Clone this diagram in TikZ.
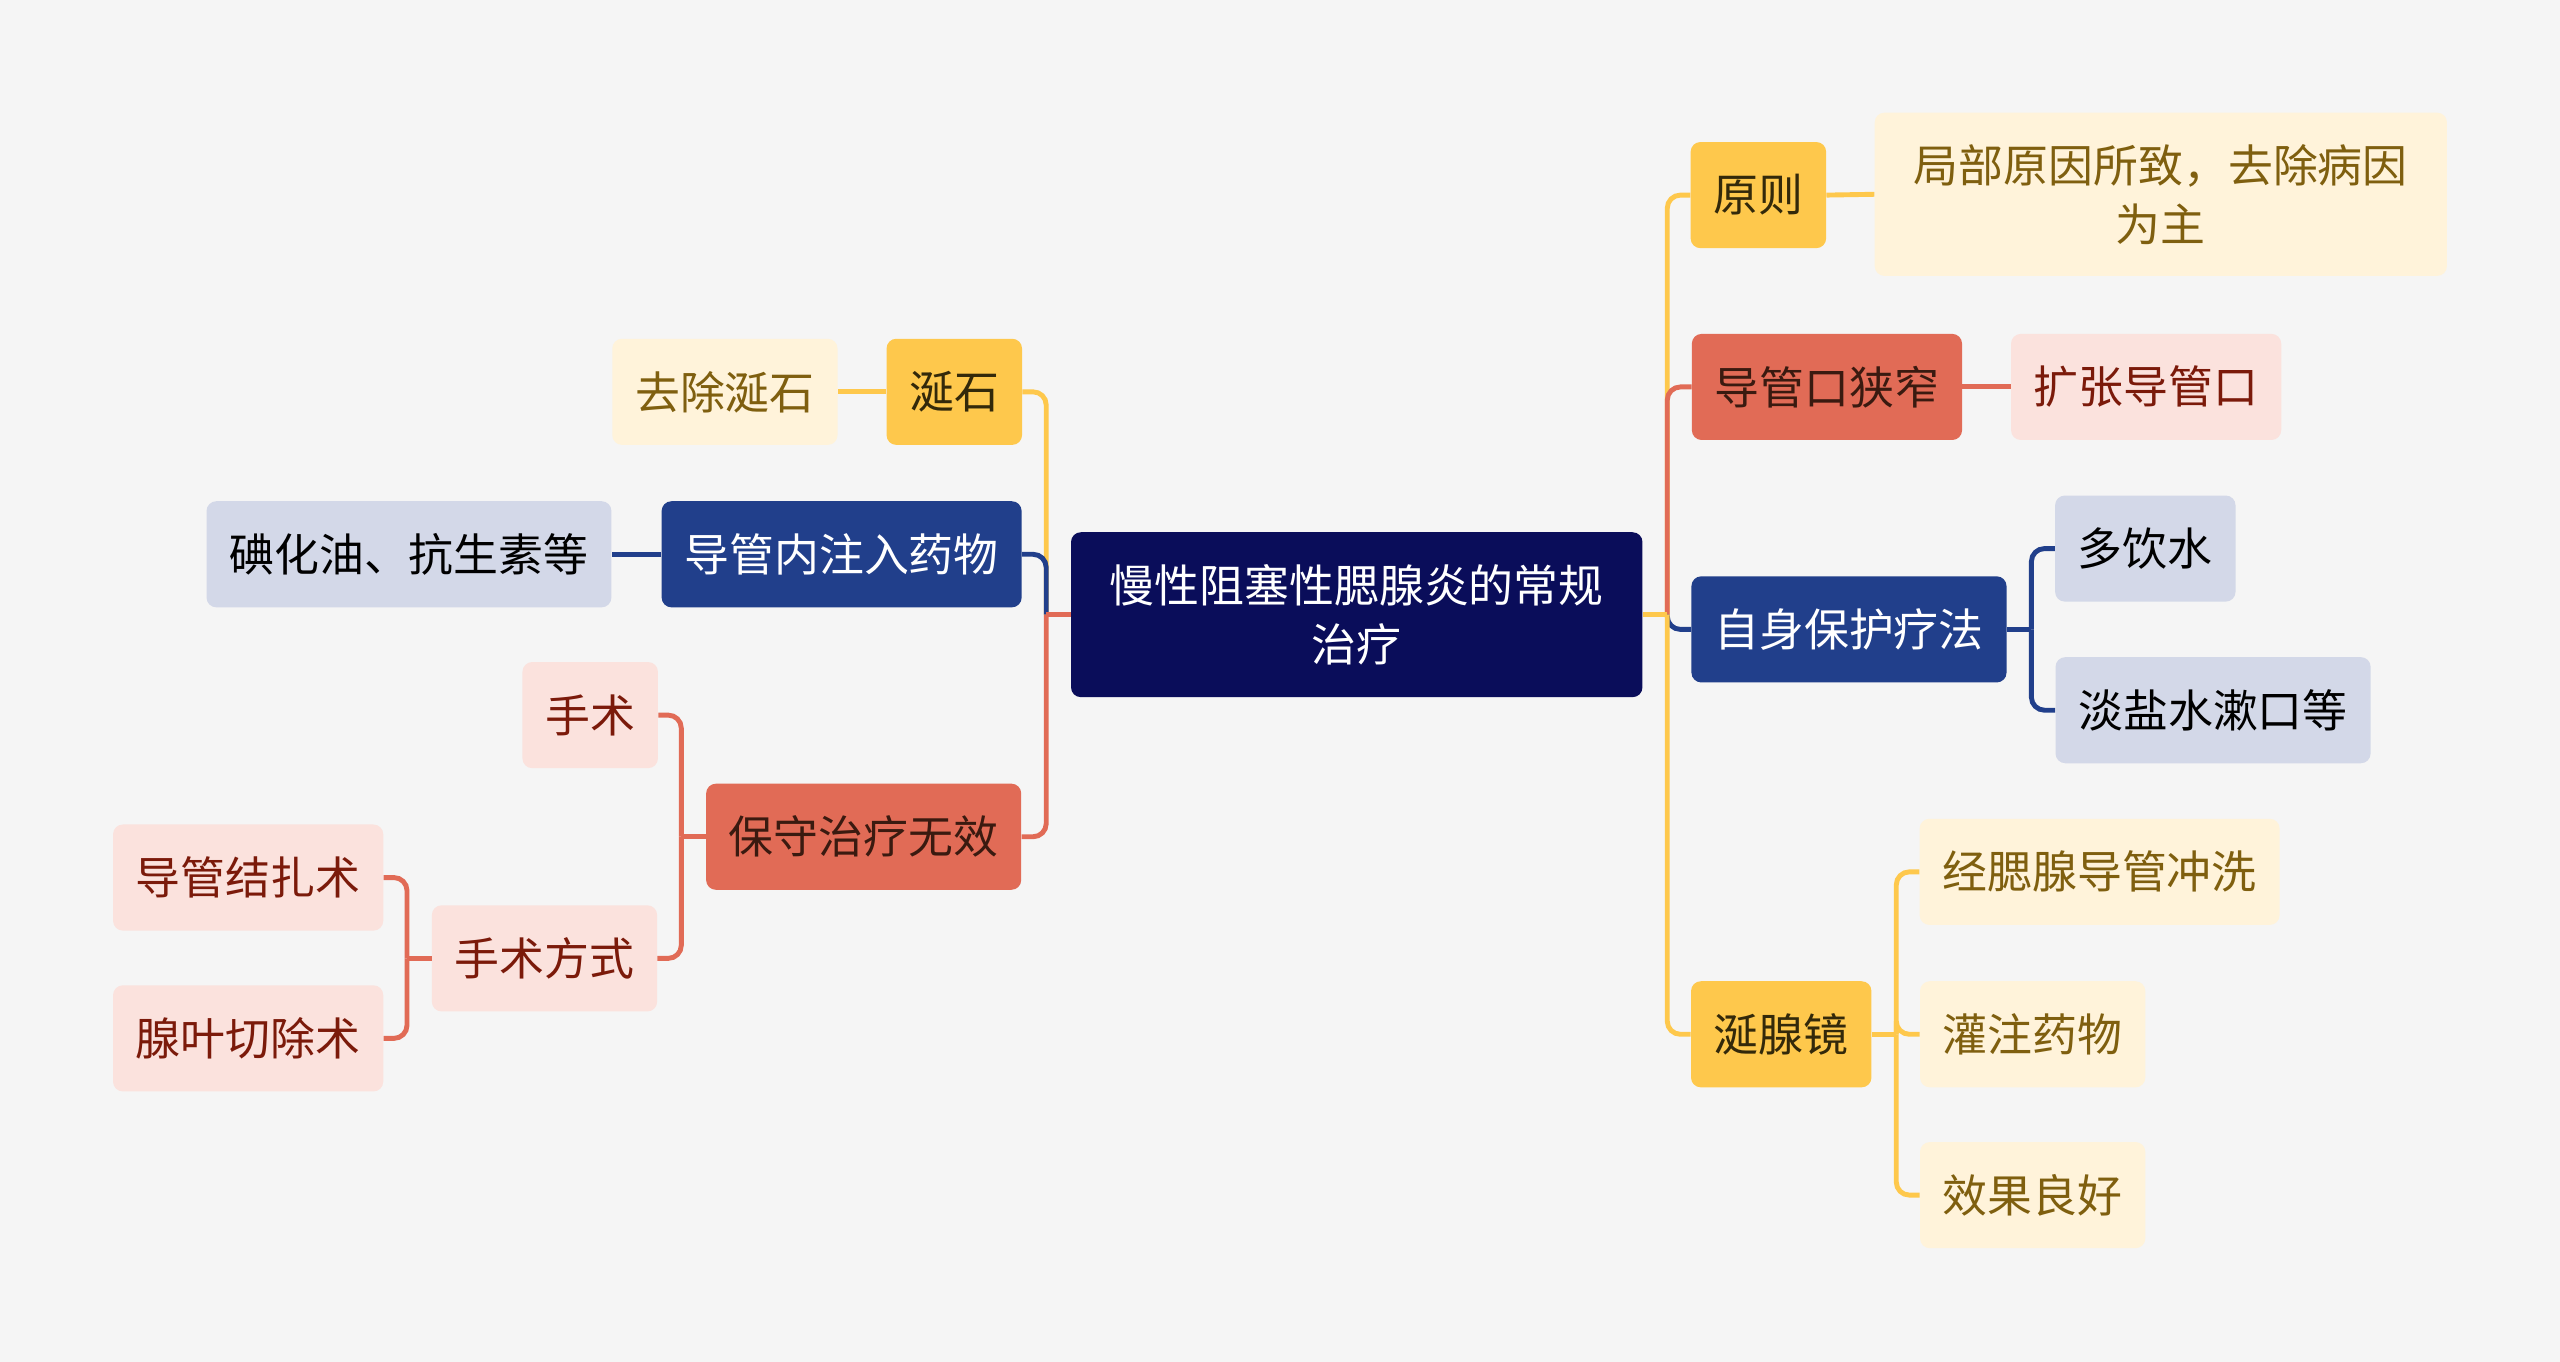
\documentclass[tikz,border=0pt]{standalone}
\usepackage{fontspec}
\setmainfont{Noto Sans CJK SC}
\usepackage{tikz}

\definecolor{bgcol}{HTML}{F5F5F5}
\definecolor{navy}{HTML}{0A0D5A}
\definecolor{ylw}{HTML}{FEC84C}
\definecolor{ylwtxt}{HTML}{33290A}
\definecolor{cream}{HTML}{FFF3DA}
\definecolor{creamtxt}{HTML}{7F5F0F}
\definecolor{blu}{HTML}{213F8B}
\definecolor{bgray}{HTML}{D3D8E8}
\definecolor{rd}{HTML}{E16B56}
\definecolor{rdtxt}{HTML}{3A1A10}
\definecolor{pnk}{HTML}{FBE2DD}
\definecolor{pnktxt}{HTML}{7B1A0A}

\tikzset{
  topic/.style={rounded corners=6pt, inner xsep=14pt, inner ysep=0pt,
    minimum height=65pt, align=center,
    font=\fontsize{27.5}{36}\selectfont},
  ybox/.style={topic, fill=ylw, text=ylwtxt},
  cbox/.style={topic, fill=cream, text=creamtxt},
  bbox/.style={topic, fill=blu, text=white},
  gbox/.style={topic, fill=bgray, text=black},
  rbox/.style={topic, fill=rd, text=rdtxt},
  pbox/.style={topic, fill=pnk, text=pnktxt},
  link/.style={line width=3pt, rounded corners=8pt},
  ylink/.style={link, draw=ylw},
  blink/.style={link, draw=blu},
  rlink/.style={link, draw=rd}
}

\begin{document}
\begin{tikzpicture}[x=1pt,y=-1pt]
  \fill[bgcol] (0,0) rectangle (1568,834);

  % centre
  \node[topic, fill=navy, text=white, minimum width=350pt, minimum height=101pt] (root) at (831,376.5)
    {慢性阻塞性腮腺炎的常规\\治疗};

  % left side
  \node[ybox] (stone) at (584.5,240) {涎石};
  \node[cbox] (rmstone) at (444,240) {去除涎石};
  \node[bbox] (inject) at (515.5,339.5) {导管内注入药物};
  \node[gbox] (iodine) at (250.5,339.5) {碘化油、抗生素等};
  \node[rbox] (conserv) at (529,512.5) {保守治疗无效};
  \node[pbox] (surg) at (361.5,438) {手术};
  \node[pbox] (surgway) at (333.5,587) {手术方式};
  \node[pbox] (ligate) at (152,537.5) {导管结扎术};
  \node[pbox] (lobect) at (152,636) {腺叶切除术};

  % right side
  \node[ybox] (princ) at (1077,119.5) {原则};
  \node[cbox, minimum height=100pt, inner xsep=24pt] (cause) at (1323.5,119) {局部原因所致，去除病因\\为主};
  \node[rbox] (narrow) at (1119,237) {导管口狭窄};
  \node[pbox] (dilate) at (1314.5,237) {扩张导管口};
  \node[bbox] (self) at (1132.5,385.5) {自身保护疗法};
  \node[gbox] (water) at (1314,336) {多饮水};
  \node[gbox] (rinse) at (1355.5,435) {淡盐水漱口等};
  \node[ybox] (scope) at (1091,633.5) {涎腺镜};
  \node[cbox] (flush) at (1286,534) {经腮腺导管冲洗};
  \node[cbox] (perfuse) at (1245,633.5) {灌注药物};
  \node[cbox] (good) at (1245,732) {效果良好};

  % junctions
  \coordinate (jroot-l) at ([xshift=-15pt]root.west);
  \coordinate (jroot-r) at ([xshift=15pt]root.east);
  \coordinate (jconserv) at ([xshift=-15pt]conserv.west);
  \coordinate (jsurgway) at ([xshift=-15pt]surgway.west);
  \coordinate (jself) at ([xshift=15pt]self.east);
  \coordinate (jscope) at ([xshift=15pt]scope.east);

  % connectors, left
  \draw[ylink] (jroot-l) |- (stone.east);
  \draw[blink] (jroot-l) |- (inject.east);
  \draw[rlink] (jroot-l) |- (conserv.east);
  \draw[rlink] (root.west) -- (jroot-l);
  \draw[ylink] (stone.west) -- (rmstone.east);
  \draw[blink] (inject.west) -- (iodine.east);
  \draw[rlink] (conserv.west) -- (jconserv);
  \draw[rlink] (jconserv) |- (surg.east);
  \draw[rlink] (jconserv) |- (surgway.east);
  \draw[rlink] (surgway.west) -- (jsurgway);
  \draw[rlink] (jsurgway) |- (ligate.east);
  \draw[rlink] (jsurgway) |- (lobect.east);

  % connectors, right
  \draw[ylink] (jroot-r) |- (princ.west);
  \draw[rlink] (jroot-r) |- (narrow.west);
  \draw[blink] (jroot-r) |- (self.west);
  \draw[ylink] (jroot-r) |- (scope.west);
  \draw[ylink] (root.east) -- (jroot-r);
  \draw[ylink] (princ.east) -- (cause.west);
  \draw[rlink] (narrow.east) -- (dilate.west);
  \draw[blink] (self.east) -- (jself);
  \draw[blink] (jself) |- (water.west);
  \draw[blink] (jself) |- (rinse.west);
  \draw[ylink] (scope.east) -- (jscope);
  \draw[ylink] (jscope) |- (flush.west);
  \draw[ylink] (jscope) |- (perfuse.west);
  \draw[ylink] (jscope) |- (good.west);
\end{tikzpicture}
\end{document}
